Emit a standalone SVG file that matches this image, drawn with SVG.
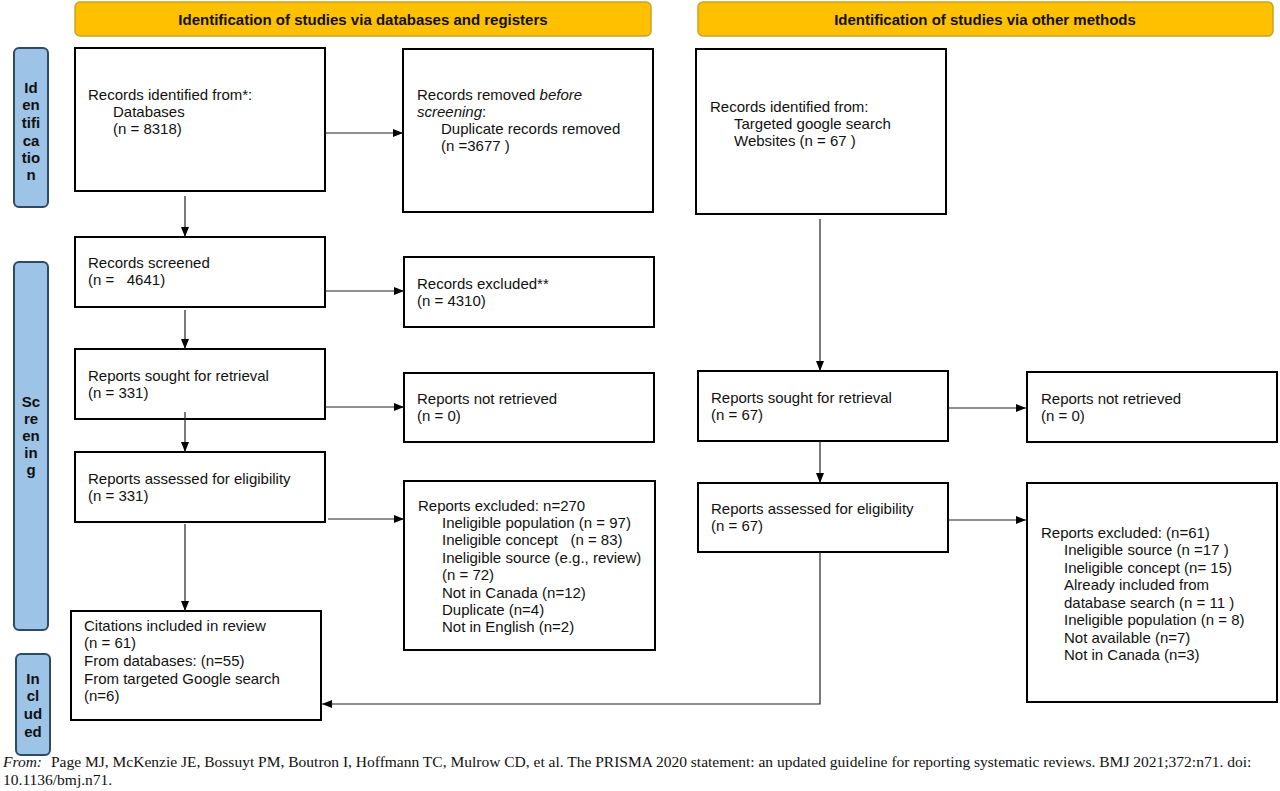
<svg xmlns="http://www.w3.org/2000/svg" width="1280" height="791" viewBox="0 0 1280 791">
<defs>
<style>
.box{fill:#fff;stroke:#000;stroke-width:2}
.hdr{fill:#FFC000;stroke:#C9A227;stroke-width:1.5}
.side{fill:#9DC3E6;stroke:#2E4A66;stroke-width:2}
.t{font-family:"Liberation Sans",Arial,sans-serif;font-size:15px;fill:#111}
.h{font-family:"Liberation Sans",Arial,sans-serif;font-size:15px;font-weight:bold;fill:#111;text-anchor:middle}
.s{font-family:"Liberation Sans",Arial,sans-serif;font-size:15px;font-weight:bold;fill:#111;text-anchor:middle}
.c{fill:none;stroke:#222;stroke-width:1.2}
.f{font-family:"Liberation Serif","Times New Roman",serif;font-size:15.5px;fill:#111}
</style>
<marker id="ah" markerWidth="10" markerHeight="8" refX="10" refY="4" orient="auto" markerUnits="userSpaceOnUse">
<path d="M0,0 L10,4 L0,8 Z" fill="#000"/>
</marker>
</defs>
<rect width="1280" height="791" fill="#fff"/>

<g id="header-databases">
<rect class="hdr" x="75" y="2" width="576" height="34" rx="5"/>
<text class="h" x="363" y="25">Identification of studies via databases and registers</text>
</g>
<g id="header-other">
<rect class="hdr" x="698" y="2" width="575" height="34" rx="5"/>
<text class="h" x="985" y="25">Identification of studies via other methods</text>
</g>

<g id="side-identification">
<rect class="side" x="14" y="48" width="34" height="159" rx="5"/>
<text class="s" x="31" y="93">Id</text>
<text class="s" x="31" y="110">en</text>
<text class="s" x="31" y="128">tifi</text>
<text class="s" x="31" y="146">ca</text>
<text class="s" x="31" y="163">tio</text>
<text class="s" x="31" y="180">n</text>
</g>
<g id="side-screening">
<rect class="side" x="14" y="262" width="34" height="368" rx="5"/>
<text class="s" x="31" y="407">Sc</text>
<text class="s" x="31" y="424">re</text>
<text class="s" x="31" y="441">en</text>
<text class="s" x="31" y="458">in</text>
<text class="s" x="31" y="475">g</text>
</g>
<g id="side-included">
<rect class="side" x="16" y="654" width="34" height="101" rx="5"/>
<text class="s" x="33" y="684">In</text>
<text class="s" x="33" y="701">cl</text>
<text class="s" x="33" y="719">ud</text>
<text class="s" x="33" y="737">ed</text>
</g>

<g id="records-identified">
<rect class="box" x="75" y="48" width="250" height="143"/>
<text class="t" x="88" y="100">Records identified from*:</text>
<text class="t" x="113" y="117">Databases</text>
<text class="t" x="113" y="134">(n = 8318)</text>
</g>
<g id="records-removed">
<rect class="box" x="403" y="49" width="250" height="163"/>
<text class="t" x="417" y="100">Records removed <tspan font-style="italic">before</tspan></text>
<text class="t" x="417" y="117"><tspan font-style="italic">screening</tspan>:</text>
<text class="t" x="441" y="134">Duplicate records removed</text>
<text class="t" x="441" y="151">(n =3677 )</text>
</g>
<g id="records-screened">
<rect class="box" x="75" y="237" width="250" height="70"/>
<text class="t" x="88" y="268">Records screened</text>
<text class="t" x="88" y="285" xml:space="preserve">(n =   4641)</text>
</g>
<g id="records-excluded">
<rect class="box" x="404" y="257" width="250" height="70"/>
<text class="t" x="417" y="289">Records excluded**</text>
<text class="t" x="417" y="306">(n = 4310)</text>
</g>
<g id="reports-sought-db">
<rect class="box" x="75" y="349" width="250" height="70"/>
<text class="t" x="88" y="381">Reports sought for retrieval</text>
<text class="t" x="88" y="398">(n = 331)</text>
</g>
<g id="reports-not-retrieved-db">
<rect class="box" x="404" y="373" width="250" height="69"/>
<text class="t" x="417" y="404">Reports not retrieved</text>
<text class="t" x="417" y="421">(n = 0)</text>
</g>
<g id="reports-assessed-db">
<rect class="box" x="75" y="452" width="250" height="70"/>
<text class="t" x="88" y="484">Reports assessed for eligibility</text>
<text class="t" x="88" y="501">(n = 331)</text>
</g>
<g id="reports-excluded-db">
<rect class="box" x="404" y="481" width="251" height="169"/>
<text class="t" x="418" y="511">Reports excluded: n=270</text>
<text class="t" x="442" y="528">Ineligible population (n = 97)</text>
<text class="t" x="442" y="545" xml:space="preserve">Ineligible concept   (n = 83)</text>
<text class="t" x="442" y="563">Ineligible source (e.g., review)</text>
<text class="t" x="442" y="580">(n = 72)</text>
<text class="t" x="442" y="598">Not in Canada (n=12)</text>
<text class="t" x="442" y="615">Duplicate (n=4)</text>
<text class="t" x="442" y="632">Not in English (n=2)</text>
</g>
<g id="citations-included">
<rect class="box" x="71" y="611" width="250" height="109"/>
<text class="t" x="84" y="631">Citations included in review</text>
<text class="t" x="84" y="648">(n = 61)</text>
<text class="t" x="84" y="666">From databases: (n=55)</text>
<text class="t" x="84" y="684">From targeted Google search</text>
<text class="t" x="84" y="701">(n=6)</text>
</g>

<g id="records-identified-other">
<rect class="box" x="696" y="49" width="250" height="165"/>
<text class="t" x="710" y="112">Records identified from:</text>
<text class="t" x="734" y="129">Targeted google search</text>
<text class="t" x="734" y="146">Websites (n = 67 )</text>
</g>
<g id="reports-sought-other">
<rect class="box" x="698" y="371" width="250" height="70"/>
<text class="t" x="711" y="403">Reports sought for retrieval</text>
<text class="t" x="711" y="420">(n = 67)</text>
</g>
<g id="reports-not-retrieved-other">
<rect class="box" x="1027" y="372" width="250" height="70"/>
<text class="t" x="1041" y="404">Reports not retrieved</text>
<text class="t" x="1041" y="421">(n = 0)</text>
</g>
<g id="reports-assessed-other">
<rect class="box" x="698" y="483" width="250" height="69"/>
<text class="t" x="711" y="514">Reports assessed for eligibility</text>
<text class="t" x="711" y="531">(n = 67)</text>
</g>
<g id="reports-excluded-other">
<rect class="box" x="1027" y="483" width="250" height="219"/>
<text class="t" x="1041" y="538">Reports excluded: (n=61)</text>
<text class="t" x="1064" y="555">Ineligible source (n =17 )</text>
<text class="t" x="1064" y="573">Ineligible concept (n= 15)</text>
<text class="t" x="1064" y="590">Already included from</text>
<text class="t" x="1064" y="608">database search (n = 11 )</text>
<text class="t" x="1064" y="625">Ineligible population (n = 8)</text>
<text class="t" x="1064" y="643">Not available (n=7)</text>
<text class="t" x="1064" y="660">Not in Canada (n=3)</text>
</g>

<g id="connectors">
<line class="c" x1="325" y1="133" x2="403" y2="133" marker-end="url(#ah)"/>
<line class="c" x1="185" y1="196" x2="185" y2="237" marker-end="url(#ah)"/>
<line class="c" x1="325" y1="291" x2="404" y2="291" marker-end="url(#ah)"/>
<line class="c" x1="185" y1="310" x2="185" y2="349" marker-end="url(#ah)"/>
<line class="c" x1="325" y1="407" x2="404" y2="407" marker-end="url(#ah)"/>
<line class="c" x1="185" y1="412" x2="185" y2="452" marker-end="url(#ah)"/>
<line class="c" x1="328" y1="519" x2="404" y2="519" marker-end="url(#ah)"/>
<line class="c" x1="185" y1="524" x2="185" y2="611" marker-end="url(#ah)"/>
<line class="c" x1="820" y1="219" x2="820" y2="371" marker-end="url(#ah)"/>
<line class="c" x1="948" y1="408" x2="1026" y2="408" marker-end="url(#ah)"/>
<line class="c" x1="820" y1="441" x2="820" y2="483" marker-end="url(#ah)"/>
<line class="c" x1="948" y1="520" x2="1026" y2="520" marker-end="url(#ah)"/>
<polyline class="c" points="820,552 820,704 322,704" marker-end="url(#ah)"/>
</g>

<g id="footer">
<text class="f" x="3" y="767"><tspan font-style="italic">From:</tspan><tspan x="51">Page MJ, McKenzie JE, Bossuyt PM, Boutron I, Hoffmann TC, Mulrow CD, et al. The PRISMA 2020 statement: an updated guideline for reporting systematic reviews. BMJ 2021;372:n71. doi:</tspan></text>
<text class="f" x="3" y="785">10.1136/bmj.n71.</text>
</g>
</svg>
